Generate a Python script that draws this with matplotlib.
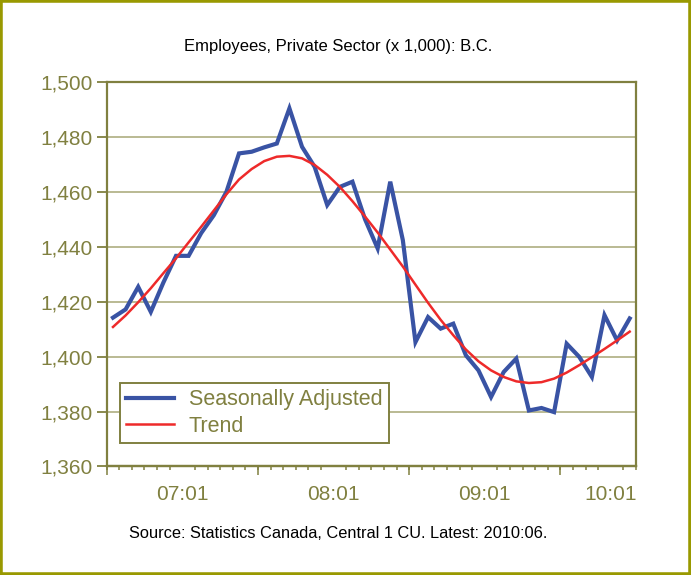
# --- B.C. private sector employees, seasonally adjusted vs trend ---

import matplotlib.pyplot as plt
from matplotlib.patches import Rectangle

plt.rcParams['font.family'] = ['Liberation Sans', 'DejaVu Sans']

# --- Data: monthly, 2007:01 .. 2010:06 (x 1,000) ---

seasonally_adjusted = [
    1414.2, 1417.2, 1425.4, 1416.3, 1427.0, 1436.7, 1436.7, 1445.0, 1451.5, 1460.0,
    1474.0, 1474.6, 1476.2, 1477.6, 1490.4, 1476.4, 1469.1, 1455.2, 1461.8, 1463.7,
    1450.0, 1439.4, 1463.7, 1442.4, 1405.3, 1414.4, 1410.2, 1412.0, 1400.5, 1395.0,
    1385.3, 1394.4, 1399.3, 1380.4, 1381.3, 1379.8, 1404.7, 1399.9, 1392.6, 1415.1,
    1405.9, 1413.9,
]
trend = [
    1410.8, 1415.0, 1419.8, 1424.9, 1430.4, 1435.8, 1441.6, 1447.3, 1453.2, 1459.1,
    1464.5, 1468.3, 1471.2, 1472.8, 1473.1, 1472.2, 1469.8, 1466.2, 1461.8, 1456.6,
    1451.0, 1445.2, 1439.0, 1432.8, 1426.2, 1419.6, 1413.4, 1407.8, 1402.6, 1398.3,
    1395.0, 1392.6, 1391.0, 1390.4, 1390.7, 1392.0, 1394.2, 1396.9, 1399.8, 1402.8,
    1405.9, 1409.1,
]
year_labels = ['07:01', '08:01', '09:01', '10:01']
year_starts = [0, 12, 24, 36]
y_ticks = [1360, 1380, 1400, 1420, 1440, 1460, 1480, 1500]

OLIVE = '#808040'
GRID = '#b4b48a'
BORDER = '#999900'

n = len(seasonally_adjusted)
x = list(range(n))

# --- Figure ---

fig = plt.figure(figsize=(6.91, 5.75), dpi=100)
ax = fig.add_axes([0.1544, 0.1887, 0.766, 0.6687])

ax.plot(x, seasonally_adjusted, color='#3953a4', lw=3, solid_joinstyle='miter',
        label='Seasonally Adjusted', zorder=3)
ax.plot(x, trend, color='#ee2a2a', lw=1.8, label='Trend', zorder=4)

ax.set_xlim(-0.5, n - 0.5)
ax.set_ylim(y_ticks[0], y_ticks[-1])

# y axis
ax.set_yticks(y_ticks, labels=[f'{v:,}' for v in y_ticks])
ax.yaxis.grid(True, color=GRID, lw=1.3)
ax.set_axisbelow(True)
ax.tick_params(axis='y', colors=OLIVE, labelcolor=OLIVE, labelsize=15,
               length=7, width=1.3, pad=3)

# x axis: labels centred on each year, small ticks per month, long ticks per year
label_pos = [min(s + 5.5, n - 2.5) for s in year_starts]
ax.set_xticks(label_pos, labels=year_labels)
ax.set_xticks([i - 0.5 for i in range(n + 1)], minor=True)
ax.tick_params(axis='x', which='major', length=0, labelcolor=OLIVE,
               labelsize=15, pad=13)
ax.tick_params(axis='x', which='minor', length=3, width=1.1, color=OLIVE)

sec = ax.secondary_xaxis('bottom')
sec.set_xticks([s - 0.5 for s in year_starts], labels=[])
sec.tick_params(length=6.5, width=1.1, color=OLIVE)
sec.spines['bottom'].set_color(OLIVE)
sec.spines['bottom'].set_linewidth(1.6)

for sp in ax.spines.values():
    sp.set_color(OLIVE)
    sp.set_linewidth(1.6)

leg = ax.legend(loc='lower left', bbox_to_anchor=(0.025, 0.061), borderaxespad=0,
                fontsize=15.5, handlelength=2.2, handletextpad=0.7,
                labelspacing=0.25, borderpad=0.3, fancybox=False,
                framealpha=1, edgecolor=OLIVE)
leg.get_frame().set_linewidth(1.4)
for t in leg.get_texts():
    t.set_color(OLIVE)

fig.text(0.49, 0.919, 'Employees, Private Sector (x 1,000): B.C.',
         ha='center', va='center', fontsize=12, color='black')
fig.text(0.49, 0.073, 'Source: Statistics Canada, Central 1 CU. Latest: 2010:06.',
         ha='center', va='center', fontsize=11.8, color='black')

fig.patches.append(Rectangle((0, 0), 1, 1, transform=fig.transFigure, fill=False,
                             edgecolor=BORDER, lw=4))

fig.savefig('out.png', dpi=100)
